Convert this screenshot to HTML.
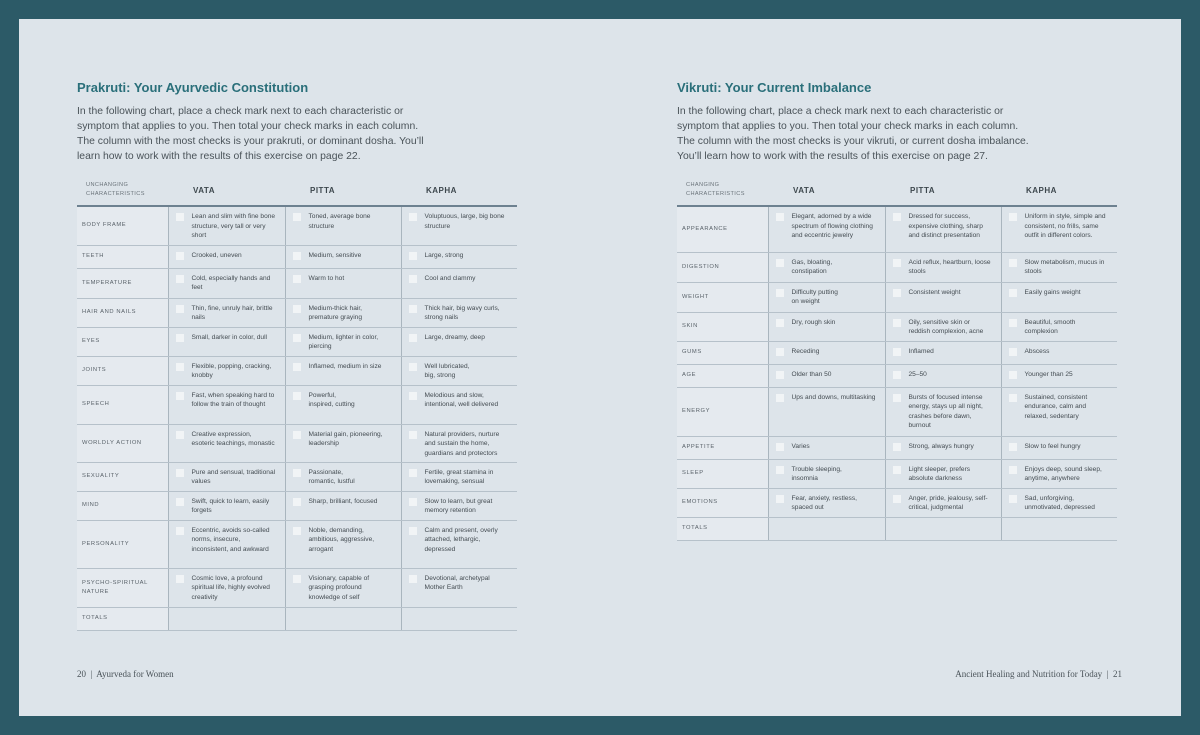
<!DOCTYPE html>
<html><head><meta charset="utf-8"><style>
*{margin:0;padding:0;box-sizing:border-box}
body{width:1200px;height:735px;background:#2c5a67;position:relative;overflow:hidden;font-family:"Liberation Sans",sans-serif}
.page{position:absolute;left:19px;top:19px;width:1162px;height:697px;background:#dde4ea}
h2{position:absolute;font-size:13px;font-weight:bold;color:#2a6f7a}
.intro{position:absolute;font-size:10.4px;line-height:15px;color:#4a5359;width:358px}
table{position:absolute;border-collapse:collapse;table-layout:fixed;width:440px}
th{font-size:8px;font-weight:bold;letter-spacing:.5px;color:#3d474d;text-align:left;padding-left:25px;height:31px;vertical-align:middle}
th.c0{font-size:5.6px;font-weight:normal;color:#6a737a;padding-left:9px;line-height:9px;letter-spacing:.4px}
thead tr{border-bottom:2px solid #6d8190}
td{border-bottom:1px solid #b6c1ca;vertical-align:top;font-size:6.6px;line-height:9.5px;color:#444c52;padding:5px 8px 0 23px;position:relative}
td+td{border-left:1px solid #a9b5be}
td.l{background:#e5eaef;vertical-align:middle;font-size:5.8px;letter-spacing:.6px;color:#5a636a;padding:0 4px 0 5px;line-height:9px}
td:not(.l)::before{content:"";position:absolute;left:7px;top:6px;width:8px;height:8px;background:#f1f4f6}
tr.t td::before{display:none}
.foot{position:absolute;top:669px;font-family:"Liberation Serif",serif;font-size:9px;color:#4a5359}
</style></head><body><div class="page"></div>
<h2 style="left:77px;top:80px">Prakruti: Your Ayurvedic Constitution</h2>
<div class="intro" style="left:77px;top:104px">In the following chart, place a check mark next to each characteristic or symptom that applies to you. Then total your check marks in each column. The column with the most checks is your prakruti, or dominant dosha. You’ll learn how to work with the results of this exercise on page 22.</div>
<table style="left:77px;top:175px"><colgroup><col style="width:91px"><col style="width:117px"><col style="width:116px"><col style="width:116px"></colgroup>
<thead><tr><th class="c0">UNCHANGING<br>CHARACTERISTICS</th><th>VATA</th><th>PITTA</th><th>KAPHA</th></tr></thead><tbody>
<tr style="height:39px"><td class="l">BODY FRAME</td><td>Lean and slim with fine bone structure, very tall or very short</td><td>Toned, average bone structure</td><td>Voluptuous, large, big bone structure</td></tr>
<tr style="height:23px"><td class="l">TEETH</td><td>Crooked, uneven</td><td>Medium, sensitive</td><td>Large, strong</td></tr>
<tr style="height:30px"><td class="l">TEMPERATURE</td><td>Cold, especially hands and feet</td><td>Warm to hot</td><td>Cool and clammy</td></tr>
<tr style="height:29px"><td class="l">HAIR AND NAILS</td><td>Thin, fine, unruly hair, brittle nails</td><td>Medium-thick hair, premature graying</td><td>Thick hair, big wavy curls, strong nails</td></tr>
<tr style="height:29px"><td class="l">EYES</td><td>Small, darker in color, dull</td><td>Medium, lighter in color, piercing</td><td>Large, dreamy, deep</td></tr>
<tr style="height:29px"><td class="l">JOINTS</td><td>Flexible, popping, cracking, knobby</td><td>Inflamed, medium in size</td><td>Well lubricated,<br>big, strong</td></tr>
<tr style="height:39px"><td class="l">SPEECH</td><td>Fast, when speaking hard to follow the train of thought</td><td>Powerful,<br>inspired, cutting</td><td>Melodious and slow, intentional, well delivered</td></tr>
<tr style="height:38px"><td class="l">WORLDLY ACTION</td><td>Creative expression, esoteric teachings, monastic</td><td>Material gain, pioneering, leadership</td><td>Natural providers, nurture and sustain the home, guardians and protectors</td></tr>
<tr style="height:29px"><td class="l">SEXUALITY</td><td>Pure and sensual, traditional values</td><td>Passionate,<br>romantic, lustful</td><td>Fertile, great stamina in lovemaking, sensual</td></tr>
<tr style="height:29px"><td class="l">MIND</td><td>Swift, quick to learn, easily forgets</td><td>Sharp, brilliant, focused</td><td>Slow to learn, but great memory retention</td></tr>
<tr style="height:48px"><td class="l">PERSONALITY</td><td>Eccentric, avoids so-called norms, insecure, inconsistent, and awkward</td><td>Noble, demanding, ambitious, aggressive, arrogant</td><td>Calm and present, overly attached, lethargic, depressed</td></tr>
<tr style="height:39px"><td class="l">PSYCHO-SPIRITUAL NATURE</td><td>Cosmic love, a profound spiritual life, highly evolved creativity</td><td>Visionary, capable of grasping profound knowledge of self</td><td>Devotional, archetypal Mother Earth</td></tr>
<tr class="t" style="height:23px"><td class="l">TOTALS</td><td></td><td></td><td></td></tr>
</tbody></table>
<h2 style="left:677px;top:80px">Vikruti: Your Current Imbalance</h2>
<div class="intro" style="left:677px;top:104px">In the following chart, place a check mark next to each characteristic or symptom that applies to you. Then total your check marks in each column. The column with the most checks is your vikruti, or current dosha imbalance. You’ll learn how to work with the results of this exercise on page 27.</div>
<table style="left:677px;top:175px"><colgroup><col style="width:91px"><col style="width:117px"><col style="width:116px"><col style="width:116px"></colgroup>
<thead><tr><th class="c0">CHANGING<br>CHARACTERISTICS</th><th>VATA</th><th>PITTA</th><th>KAPHA</th></tr></thead><tbody>
<tr style="height:46px"><td class="l">APPEARANCE</td><td>Elegant, adorned by a wide spectrum of flowing clothing and eccentric jewelry</td><td>Dressed for success, expensive clothing, sharp and distinct presentation</td><td>Uniform in style, simple and consistent, no frills, same outfit in different colors.</td></tr>
<tr style="height:30px"><td class="l">DIGESTION</td><td>Gas, bloating,<br>constipation</td><td>Acid reflux, heartburn, loose stools</td><td>Slow metabolism, mucus in stools</td></tr>
<tr style="height:30px"><td class="l">WEIGHT</td><td>Difficulty putting<br>on weight</td><td>Consistent weight</td><td>Easily gains weight</td></tr>
<tr style="height:29px"><td class="l">SKIN</td><td>Dry, rough skin</td><td>Oily, sensitive skin or reddish complexion, acne</td><td>Beautiful, smooth complexion</td></tr>
<tr style="height:23px"><td class="l">GUMS</td><td>Receding</td><td>Inflamed</td><td>Abscess</td></tr>
<tr style="height:23px"><td class="l">AGE</td><td>Older than 50</td><td>25–50</td><td>Younger than 25</td></tr>
<tr style="height:49px"><td class="l">ENERGY</td><td>Ups and downs, multitasking</td><td>Bursts of focused intense energy, stays up all night, crashes before dawn, burnout</td><td>Sustained, consistent endurance, calm and relaxed, sedentary</td></tr>
<tr style="height:23px"><td class="l">APPETITE</td><td>Varies</td><td>Strong, always hungry</td><td>Slow to feel hungry</td></tr>
<tr style="height:29px"><td class="l">SLEEP</td><td>Trouble sleeping,<br>insomnia</td><td>Light sleeper, prefers absolute darkness</td><td>Enjoys deep, sound sleep, anytime, anywhere</td></tr>
<tr style="height:29px"><td class="l">EMOTIONS</td><td>Fear, anxiety, restless, spaced out</td><td>Anger, pride, jealousy, self-critical, judgmental</td><td>Sad, unforgiving, unmotivated, depressed</td></tr>
<tr class="t" style="height:23px"><td class="l">TOTALS</td><td></td><td></td><td></td></tr>
</tbody></table>
<div class="foot" style="left:77px">20 &nbsp;|&nbsp; Ayurveda for Women</div>
<div class="foot" style="right:78px">Ancient Healing and Nutrition for Today &nbsp;|&nbsp; 21</div>
</body></html>
